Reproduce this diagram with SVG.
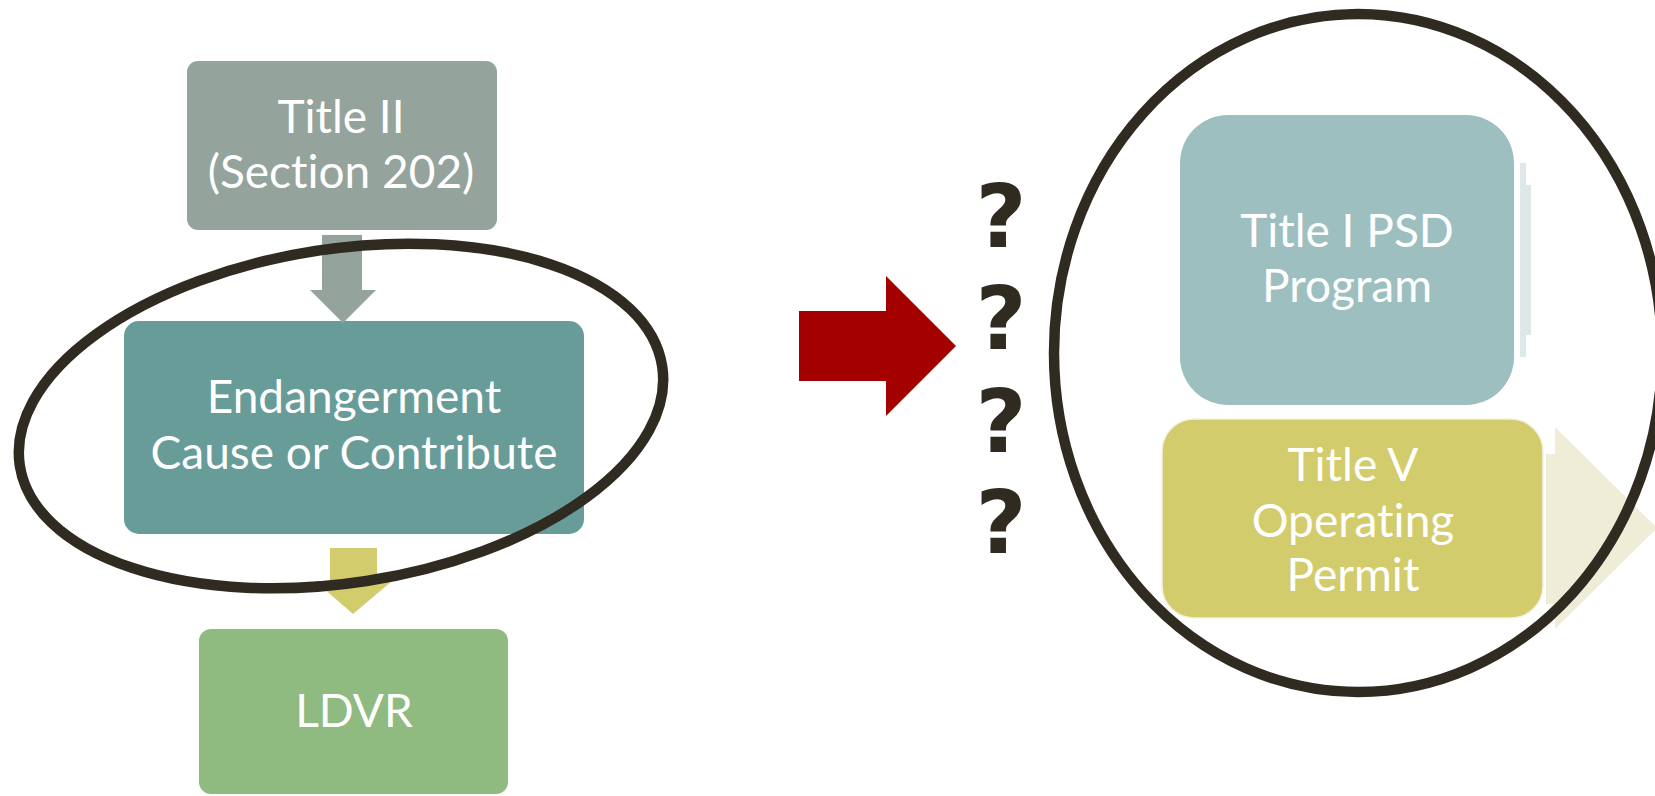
<svg xmlns="http://www.w3.org/2000/svg" width="1655" height="796" viewBox="0 0 1655 796">
  <style>
    .lbl { font-family: Lato, "Open Sans", "Liberation Sans", sans-serif; font-size: 46px; fill: #ffffff; text-anchor: middle; font-variant-ligatures: none; }
    .q { font-family: "DejaVu Sans", "Liberation Sans", sans-serif; font-weight: bold; font-size: 88px; fill: #2f2b20; text-anchor: middle; }
    .ring { fill: none; stroke: #2f2b20; stroke-width: 10.5; }
  </style>
  <rect width="1655" height="796" fill="#ffffff"/>

  <g id="node-title2">
    <rect x="187" y="61" width="310" height="169" rx="11" fill="#94a39b"/>
    <text class="lbl" x="341" y="133">Title II</text>
    <text class="lbl" x="341" y="188">(Section 202)</text>
  </g>

  <g id="node-endangerment">
    <rect x="124" y="321" width="460" height="213" rx="15" fill="#679c99"/>
    <text class="lbl" x="354" y="413">Endangerment</text>
    <text class="lbl" x="354" y="469">Cause or Contribute</text>
  </g>

  <g id="node-ldvr">
    <rect x="199" y="629" width="309" height="165" rx="12" fill="#8fba80"/>
    <text class="lbl" x="354" y="727">LDVR</text>
  </g>

  <g id="node-psd">
    <polygon points="1520,163 1526,163 1526,185 1531,185 1531,335 1526,335 1526,357 1520,357" fill="#dfe8e8"/>
    <rect x="1180" y="115" width="334" height="290" rx="48" fill="#9dbfbf"/>
    <text class="lbl" x="1347" y="247">Title I PSD</text>
    <text class="lbl" x="1347" y="302">Program</text>
  </g>

  <g id="connectors">
    <polygon points="322,235 362,235 362,290 376,290 343,323 310,290 322,290" fill="#94a39b"/>
    <polygon points="330,548 377,548 377,581 392,581 353,614 315,581 330,581" fill="#d3cc6d"/>
    <polygon points="799,311 886,311 886,276 956,346 886,416 886,381 799,381" fill="#a50000"/>
    <polygon points="1546,454 1555,454 1555,427 1657,528 1555,629 1555,604 1546,604" fill="#efedd7"/>
  </g>

  <g id="node-titlev">
    <rect x="1162" y="419" width="381" height="199" rx="32" fill="#d3cc6d" stroke="#f4f2e0" stroke-width="1.5"/>
    <text class="lbl" x="1353" y="481">Title V</text>
    <text class="lbl" x="1353" y="537">Operating</text>
    <text class="lbl" x="1353" y="591">Permit</text>
  </g>

  <g id="questions">
    <text class="q" x="1001" y="247">?</text>
    <text class="q" x="1001" y="349">?</text>
    <text class="q" x="1001" y="452">?</text>
    <text class="q" x="1001" y="553">?</text>
  </g>

  <g id="highlights">
    <ellipse class="ring" cx="341" cy="416" rx="325" ry="167" transform="rotate(-8.8 341 416)"/>
    <ellipse class="ring" cx="1358" cy="353" rx="304" ry="339" stroke-width="11"/>
  </g>
</svg>
